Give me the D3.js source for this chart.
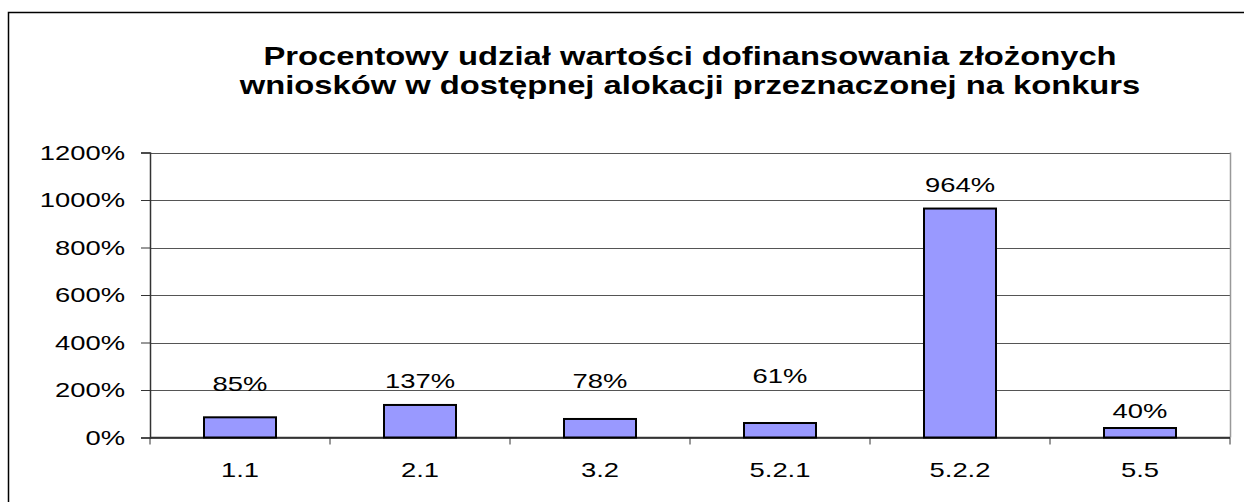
<!DOCTYPE html>
<html>
<head>
<meta charset="utf-8">
<script src="https://cdn.jsdelivr.net/npm/d3@7"></script>
<style>
  html, body { margin: 0; padding: 0; background: #fff; }
  svg { display: block; font-family: "Liberation Sans", Arial, sans-serif; }
</style>
</head>
<body>
<svg id="chart" width="1244" height="502"></svg>
<script>
// ---- data ----
const categories = ["1.1", "2.1", "3.2", "5.2.1", "5.2.2", "5.5"];
const values = [85, 137, 78, 61, 964, 40];
const yTicks = [0, 200, 400, 600, 800, 1000, 1200];
const titleLines = [
  "Procentowy udział wartości dofinansowania złożonych",
  "wniosków w dostępnej alokacji przeznaczonej na konkurs"
];
// label nudges (px above bar top), as placed in the original
const labelGap = [26, 17, 31, 40, 17, 10];

// ---- layout ----
const svg = d3.select("#chart");
const plot = { left: 150, right: 1230, top: 152.5, bottom: 437.5 };
const FS = 20;       // small text font size
const SX = 1.37;     // horizontal stretch of the small texts
const TSX = 1.31;    // horizontal stretch of the title

svg.append("rect")
  .attr("x", 8.5).attr("y", 12.5)
  .attr("width", 1300).attr("height", 600)
  .attr("fill", "none").attr("stroke", "#000").attr("stroke-width", 1.5);

const x = d3.scaleBand().domain(categories)
  .range([plot.left, plot.right]).paddingInner(0.6).paddingOuter(0.3);
const xb = d3.scaleBand().domain(categories).range([plot.left, plot.right]);
const y = d3.scaleLinear().domain([0, 1200]).range([plot.bottom, plot.top]);

function stretched(sel, px, py, sx) {
  return sel.attr("x", 0).attr("y", 0)
    .attr("transform", (d, i) => `translate(${px(d, i)},${py(d, i)}) scale(${sx},1)`);
}

// title
stretched(
  svg.append("g").selectAll("text").data(titleLines).join("text"),
  () => 690, (d, i) => 65 + i * 29, TSX)
  .attr("text-anchor", "middle")
  .attr("font-weight", "bold").attr("font-size", 25).attr("fill", "#000")
  .text(d => d);

// gridlines
svg.append("g").selectAll("line").data(yTicks).join("line")
  .attr("x1", plot.left).attr("x2", plot.right)
  .attr("y1", d => Math.round(y(d)) + 0.5).attr("y2", d => Math.round(y(d)) + 0.5)
  .attr("stroke", "#555").attr("stroke-width", 1);

// right border of plot
svg.append("line")
  .attr("x1", plot.right + 0.5).attr("x2", plot.right + 0.5)
  .attr("y1", plot.top).attr("y2", plot.bottom)
  .attr("stroke", "#999").attr("stroke-width", 1.5);

// y axis (line + ticks via d3 axis, labels stretched)
const yAxis = d3.axisLeft(y).tickValues(yTicks).tickSize(9).tickFormat("");
const gy = svg.append("g").attr("transform", `translate(${plot.left},0)`).call(yAxis);
gy.select(".domain").attr("stroke", "#333").attr("stroke-width", 1.5);
gy.selectAll(".tick line").attr("stroke", "#333");
stretched(
  svg.append("g").selectAll("text").data(yTicks).join("text"),
  () => 125, d => y(d) + 7, SX)
  .attr("text-anchor", "end").attr("font-size", FS).attr("fill", "#000")
  .text(d => d + "%");

// x axis
const gx = svg.append("g").attr("transform", `translate(0,${plot.bottom})`);
gx.append("line").attr("x1", plot.left).attr("x2", plot.right)
  .attr("stroke", "#333").attr("stroke-width", 1.5);
const bounds = categories.map(c => xb(c)).concat([plot.right]);
gx.selectAll("line.t").data(bounds).join("line").attr("class", "t")
  .attr("x1", d => d).attr("x2", d => d).attr("y1", 0).attr("y2", 7)
  .attr("stroke", "#333");
stretched(
  svg.append("g").selectAll("text").data(categories).join("text"),
  d => xb(d) + xb.bandwidth() / 2, () => plot.bottom + 39, SX)
  .attr("text-anchor", "middle").attr("font-size", FS).attr("fill", "#000")
  .text(d => d);

// bars
svg.append("g").selectAll("rect").data(values).join("rect")
  .attr("x", (d, i) => x(categories[i]))
  .attr("width", x.bandwidth())
  .attr("y", d => y(d))
  .attr("height", d => y(0) - y(d))
  .attr("fill", "#9999FF").attr("stroke", "#000").attr("stroke-width", 2);

// value labels
stretched(
  svg.append("g").selectAll("text").data(values).join("text"),
  (d, i) => xb(categories[i]) + xb.bandwidth() / 2, (d, i) => y(d) - labelGap[i], SX)
  .attr("text-anchor", "middle").attr("font-size", FS).attr("fill", "#000")
  .text(d => d + "%");
</script>
</body>
</html>
